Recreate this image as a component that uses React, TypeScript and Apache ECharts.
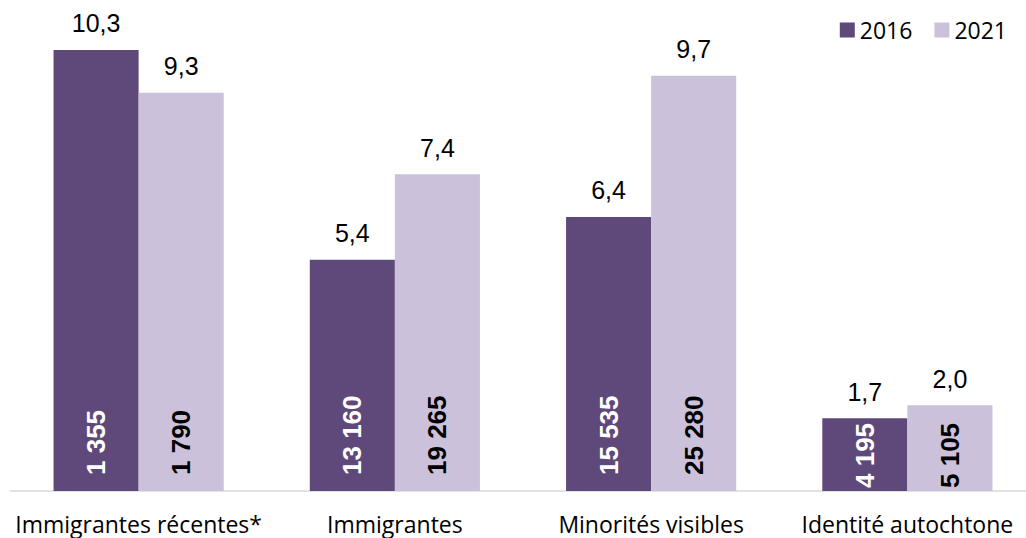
import React, { useEffect, useRef } from "react";
import * as echarts from "echarts";

const categories = ["Immigrantes récentes*", "Immigrantes", "Minorités visibles", "Identité autochtone"];
const pct2016 = [10.3, 5.4, 6.4, 1.7];
const pct2021 = [9.3, 7.4, 9.7, 2.0];
const count2016 = [1355, 13160, 15535, 4195];
const count2021 = [1790, 19265, 25280, 5105];
const seriesNames = ["2016", "2021"];

const C16 = "#5f497a";
const C21 = "#ccc1da";
const BAR_RATIO = 0.332;
const COUNT_FONT = "bold 26px 'Liberation Sans'";

const fmtPct = (v: number) => v.toFixed(1).replace(".", ",");
const fmtCount = (v: number) => String(v).replace(/\B(?=(\d{3})+(?!\d))/g, " ");

let measureCtx: CanvasRenderingContext2D | null = null;
const measure = (text: string) => {
  if (!measureCtx) measureCtx = document.createElement("canvas").getContext("2d");
  if (!measureCtx) return text.length * 14;
  measureCtx.font = COUNT_FONT;
  return measureCtx.measureText(text).width;
};

export default function App() {
  const ref = useRef<HTMLDivElement>(null);
  useEffect(() => {
    if (!ref.current) return;
    const chart = echarts.init(ref.current, undefined, { renderer: "svg" });
    const topLabel = (pcts: number[]) => ({
      show: true,
      position: "top",
      distance: 14,
      color: "#000",
      fontFamily: "Liberation Sans",
      fontSize: 25,
      formatter: (p: any) => fmtPct(pcts[p.dataIndex]),
    });
    const countSeries = (name: string, counts: number[], pcts: number[], color: string, side: number) => ({
      name,
      type: "custom",
      silent: true,
      z: 5,
      encode: { x: 0, y: 1 },
      data: counts.map((c, i) => [i, 0, c, pcts[i]]),
      renderItem: (params: any, api: any) => {
        const base = api.coord([api.value(0), 0]);
        const top = api.coord([api.value(0), api.value(3)]);
        const band = api.size([1, 0])[0];
        const cx = base[0] + side * band * BAR_RATIO * 0.5;
        const text = fmtCount(api.value(2));
        const len = measure(text);
        const fits = top[1] + len + 8 <= base[1] - 16;
        const y = fits ? base[1] - 16 : base[1] - 3;
        return {
          type: "group",
          x: cx,
          y,
          rotation: Math.PI / 2,
          children: [
            {
              type: "text",
              x: 0,
              y: 0,
              style: {
                text,
                fill: color,
                font: COUNT_FONT,
                align: "left",
                verticalAlign: "middle",
              },
            },
          ],
        };
      },
    });
    chart.setOption({
      animation: false,
      legend: {
        data: seriesNames,
        right: 14,
        top: 13,
        icon: "rect",
        itemWidth: 15,
        itemHeight: 15,
        itemGap: 22,
        textStyle: { fontFamily: "Open Sans", fontSize: 23, lineHeight: 24, color: "#000" },
      },
      grid: { left: 10.5, width: 1025, top: 20, bottom: 47, containLabel: false, outerBoundsMode: "none" },
      xAxis: {
        type: "category",
        data: categories,
        axisLine: { show: true, lineStyle: { color: "#d9d9d9", width: 1.5 } },
        axisTick: { show: false },
        axisLabel: { margin: 21, color: "#000", fontFamily: "Open Sans", fontSize: 23, interval: 0 },
      },
      yAxis: { type: "value", min: 0, max: 11, show: false, splitLine: { show: false } },
      series: [
        { name: "2016", type: "bar", stack: "a", barWidth: "33.2%", barGap: "0%", data: pct2016, itemStyle: { color: C16 } },
        { name: "2021", type: "bar", stack: "b", barWidth: "33.2%", barGap: "0%", data: pct2021, itemStyle: { color: C21 } },
        {
          name: "2016 étiquette", type: "bar", stack: "a", barWidth: "33.2%", barGap: "0%",
          data: pct2016.map(() => 0), itemStyle: { color: "transparent" }, silent: true, label: topLabel(pct2016),
        },
        {
          name: "2021 étiquette", type: "bar", stack: "b", barWidth: "33.2%", barGap: "0%",
          data: pct2021.map(() => 0), itemStyle: { color: "transparent" }, silent: true, label: topLabel(pct2021),
        },
        countSeries("Effectifs 2016", count2016, pct2016, "#fff", -1),
        countSeries("Effectifs 2021", count2021, pct2021, "#000", 1),
      ],
    });
    return () => chart.dispose();
  }, []);
  return <div ref={ref} style={{ position: "absolute", left: 0, top: 0, width: 1026, height: 538 }} />;
}
